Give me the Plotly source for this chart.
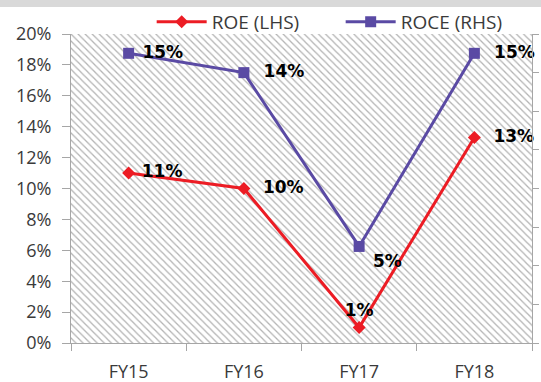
import plotly.graph_objects as go

# Financial years on the category axis
years = ["FY15", "FY16", "FY17", "FY18"]
# Return on equity, % (left axis)
roe = [11.0, 10.0, 1.0, 13.3]
# Return on capital employed, % (right axis)
roce = [15.0, 14.0, 5.0, 15.0]
# Axis ranges (%)
left_range = [0, 20]
right_range = [0, 16]

W, H = 541, 382
ML, MR, MT, MB = 71, 9, 34, 39
PLOT_H = H - MT - MB
PLOT_W = W - ML - MR

FONT = "Open Sans"
LABEL_FONT = "DejaVu Sans"
RED = "#ec1c24"
PURPLE = "#5a4aa4"
AXIS = "#a6a6a6"
TEXT = "#3a3a3a"

fig = go.Figure()

# Hatched plot-area backdrop: full-height bars with a diagonal pattern
fig.add_trace(go.Bar(
    x=years,
    y=[left_range[1]] * len(years),
    width=1,
    marker=dict(
        color="white",
        line=dict(width=0),
        pattern=dict(shape="\\", fgcolor="#b3b3b3", bgcolor="white",
                     size=5, solidity=0.25, fillmode="replace"),
    ),
    hoverinfo="skip",
    showlegend=False,
))

label_font = dict(family=LABEL_FONT, size=17, color="black", weight="bold")

fig.add_trace(go.Scatter(
    x=years, y=roe, name="ROE (LHS)",
    mode="lines+markers+text",
    line=dict(color=RED, width=3),
    marker=dict(symbol="diamond", size=10, color=RED),
    texttemplate=[" %{y:.0f}%", "  %{y:.0f}%", "%{y:.0f}%", "  %{y:.0f}%"],
    textposition=["middle right", "middle right", "top center", "middle right"],
    textfont=label_font,
    cliponaxis=False,
))

fig.add_trace(go.Scatter(
    x=years, y=roce, name="ROCE (RHS)", yaxis="y2",
    mode="lines+markers+text",
    line=dict(color=PURPLE, width=3),
    marker=dict(symbol="square", size=11, color=PURPLE),
    texttemplate=[" %{y:.0f}%", "  %{y:.0f}%", " %{y:.0f}%", "  %{y:.0f}%"],
    textposition=["middle right", "middle right", "bottom right", "middle right"],
    textfont=label_font,
    cliponaxis=False,
))

# Thin grey band along the top edge of the canvas
fig.add_shape(
    type="rect", xref="paper", yref="paper",
    x0=-ML / PLOT_W, x1=1 + MR / PLOT_W,
    y0=1 + (MT - 7) / PLOT_H, y1=1 + MT / PLOT_H,
    fillcolor="#d9d9d9", line=dict(width=0), layer="above",
)

tick_font = dict(family=FONT, size=18, color=TEXT)

fig.update_layout(
    width=W, height=H,
    margin=dict(l=ML, r=MR, t=MT, b=MB, pad=0, autoexpand=False),
    paper_bgcolor="white",
    plot_bgcolor="white",
    bargap=0,
    font=dict(family=FONT, size=18, color=TEXT),
    showlegend=True,
    legend=dict(
        orientation="h", x=0.175, y=1 + 12 / PLOT_H,
        xanchor="left", yanchor="middle",
        font=dict(family=FONT, size=19, color=TEXT),
        bgcolor="rgba(0,0,0,0)", itemwidth=50, tracegroupgap=0,
        entrywidth=124, entrywidthmode="pixels",
    ),
    xaxis=dict(
        type="category", range=[-0.5, 3.5],
        showgrid=False, zeroline=False,
        showline=True, linecolor=AXIS, linewidth=1,
        ticks="outside", tickson="boundaries", ticklen=7, tickcolor=AXIS,
        ticklabelstandoff=12,
        tickfont=tick_font,
    ),
    yaxis=dict(
        range=left_range, dtick=2, ticksuffix="%",
        showgrid=False, zeroline=False,
        showline=True, linecolor=AXIS, linewidth=1,
        ticks="outside", ticklen=8, tickcolor=AXIS,
        ticklabelstandoff=7,
        tickfont=tick_font,
    ),
    yaxis2=dict(
        range=right_range, dtick=2, overlaying="y", side="right",
        showgrid=False, zeroline=False,
        showline=True, linecolor=AXIS, linewidth=1,
        ticks="outside", ticklen=6, tickcolor=AXIS,
        showticklabels=False,
    ),
)

fig.write_html("out.html")
